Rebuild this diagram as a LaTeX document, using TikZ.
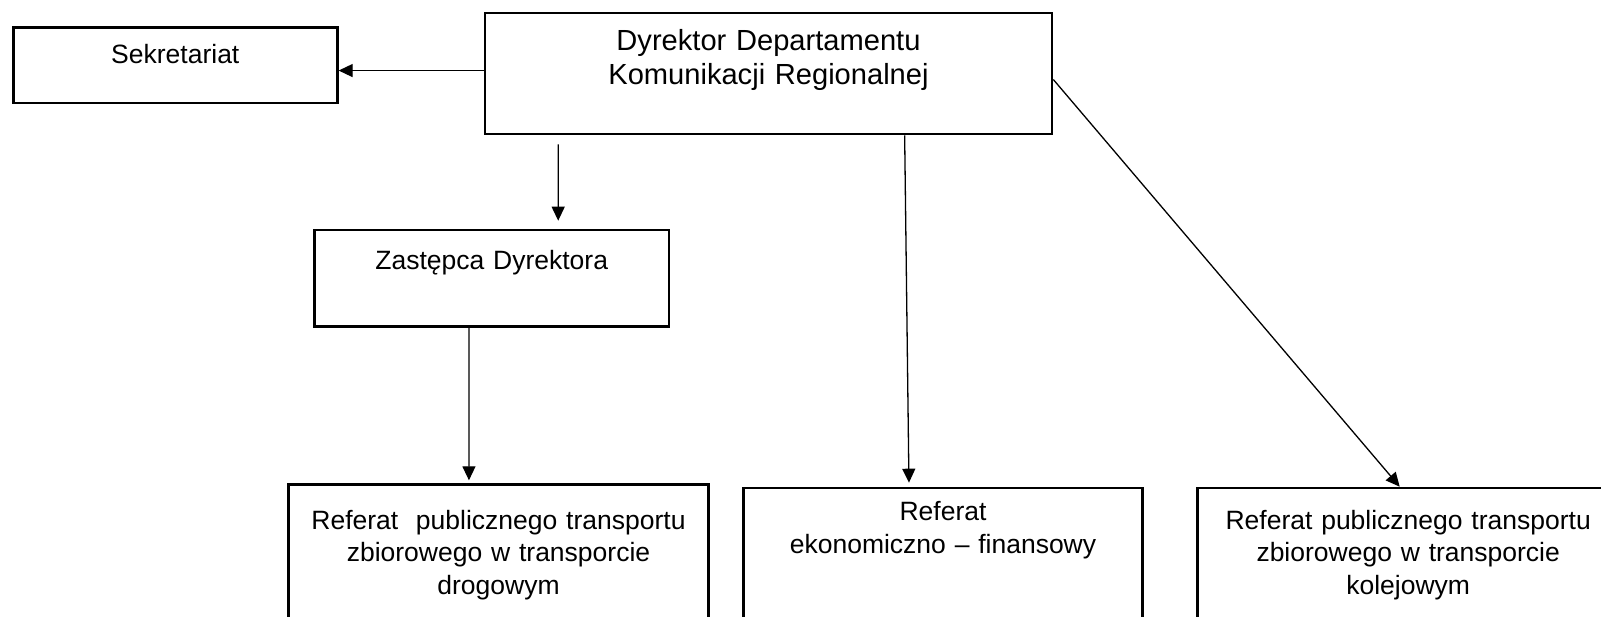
\documentclass[tikz,border=0pt]{standalone}
\usepackage{fontspec}
\setmainfont{Liberation Sans}
\usetikzlibrary{arrows.meta}

\begin{document}
\begin{tikzpicture}[x=1pt,y=-1pt,
    box/.style={draw,line width=2.7pt,inner sep=0pt,anchor=north,align=center,
      font=\fontsize{26.5pt}{32.6pt}\selectfont},
    link/.style={line width=1.3pt,-{Triangle[length=14pt,width=13pt]}}]
  \useasboundingbox (0,0) rectangle (1601,616);
  \clip (0,0) rectangle (1601,616);
  \draw
    (175.3,26) node[box,text width=324pt,text height=35.7pt,text depth=40pt] (sek){Sekretariat}
    (768.5,11.7) node[box,text width=567pt,text height=37.6pt,text depth=83.4pt,
      font=\fontsize{29.1pt}{33.5pt}\selectfont] (dyr){Dyrektor Departamentu\\Komunikacji Regionalnej}
    (491.7,228.7) node[box,text width=354.7pt,text height=39.6pt,text depth=56.7pt] (zas){Zastępca Dyrektora}
    (498.5,483.3) node[box,text width=420.4pt,text height=44.5pt,text depth=112.2pt] (drog){Referat\ \ publicznego transportu\\zbiorowego w transporcie\\drogowym}
    (943,486.7) node[box,text width=399.4pt,text height=32.5pt,text depth=120.8pt] (ekon){Referat\\ekonomiczno – finansowy}
    (1408.2,486.7) node[box,text width=420.9pt,text height=41pt,text depth=112.3pt] (kol){Referat publicznego transportu\\zbiorowego w transporcie\\kolejowym};
  \begin{scope}[link]
    \draw ([yshift=3pt]dyr.west) to ([yshift=3pt]dyr.west -| sek.east);
    \draw ([xshift=74.5pt,yshift=-9pt]dyr.south west) to ([xshift=245.2pt,yshift=8pt]zas.north west);
    \draw ([xshift=156pt]zas.south west) to ([xshift=182pt,yshift=3pt]drog.north west);
    \draw ([xshift=421pt]dyr.south west) to ([xshift=167pt,yshift=4pt]ekon.north west);
    \draw ([yshift=-6pt]dyr.east) to ([xshift=203.3pt]kol.north west);
  \end{scope}
\end{tikzpicture}
\end{document}
